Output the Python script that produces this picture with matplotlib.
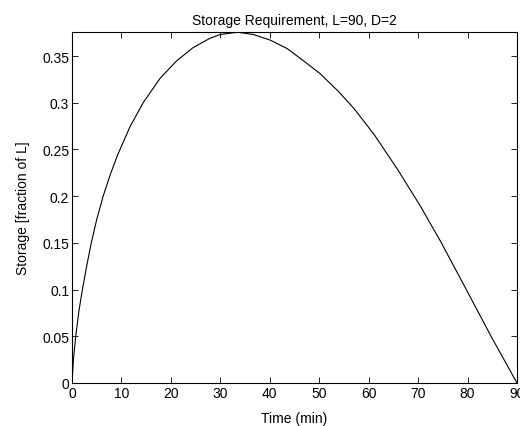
import matplotlib
matplotlib.use("Agg")
from matplotlib import pyplot as plt
from matplotlib.ticker import FuncFormatter

# values
time_min = [0, 0.3, 0.75, 1.4, 2.1, 3.0, 3.9, 5.0, 6.3, 7.8, 9.3, 11.7, 14.4, 17.8,
            21.2, 24.5, 27.9, 30.0, 33.5, 36.7, 40.1, 43.5, 46.8, 50.2, 53.9,
            57.0, 61.1, 65.8, 70.5, 74.6, 79.6, 84.7, 90]
storage = [0, 0.026, 0.05, 0.077, 0.10, 0.126, 0.15, 0.175, 0.20, 0.224, 0.245,
           0.274, 0.300, 0.326, 0.345, 0.359, 0.369, 0.373, 0.3755, 0.373,
           0.367, 0.358, 0.345, 0.331, 0.312, 0.294, 0.266, 0.229, 0.189,
           0.151, 0.1015, 0.0505, 0]
x_ticks = [0, 10, 20, 30, 40, 50, 60, 70, 80, 90]
y_ticks = [0, 0.05, 0.1, 0.15, 0.2, 0.25, 0.3, 0.35]

plt.rcParams['font.family'] = ['Liberation Sans', 'DejaVu Sans']
plt.rcParams['font.size'] = 10

fig = plt.figure(figsize=(5.2, 4.27), dpi=100)
ax = fig.add_axes([72 / 520, 1 - 384 / 427, 445 / 520, 351 / 427])
ax.plot(time_min, storage, color='black', linewidth=0.8)

ax.set_xlim(0, 90)
ax.set_ylim(0, 0.3757)
ax.set_xticks(x_ticks)
ax.set_yticks(y_ticks)
ax.yaxis.set_major_formatter(FuncFormatter(lambda v, p: f'{v:g}'))
ax.tick_params(direction='in', length=4, width=0.6, top=True, right=True,
               labelsize=10, pad=2)
for s in ax.spines.values():
    s.set_linewidth(0.8)

ax.set_title('Storage Requirement, L=90, D=2', fontsize=10, pad=6)
ax.set_xlabel('Time (min)', fontsize=10, labelpad=8)
ax.set_ylabel('Storage [fraction of L]', fontsize=10, labelpad=9)

fig.savefig('out.png', dpi=100)
